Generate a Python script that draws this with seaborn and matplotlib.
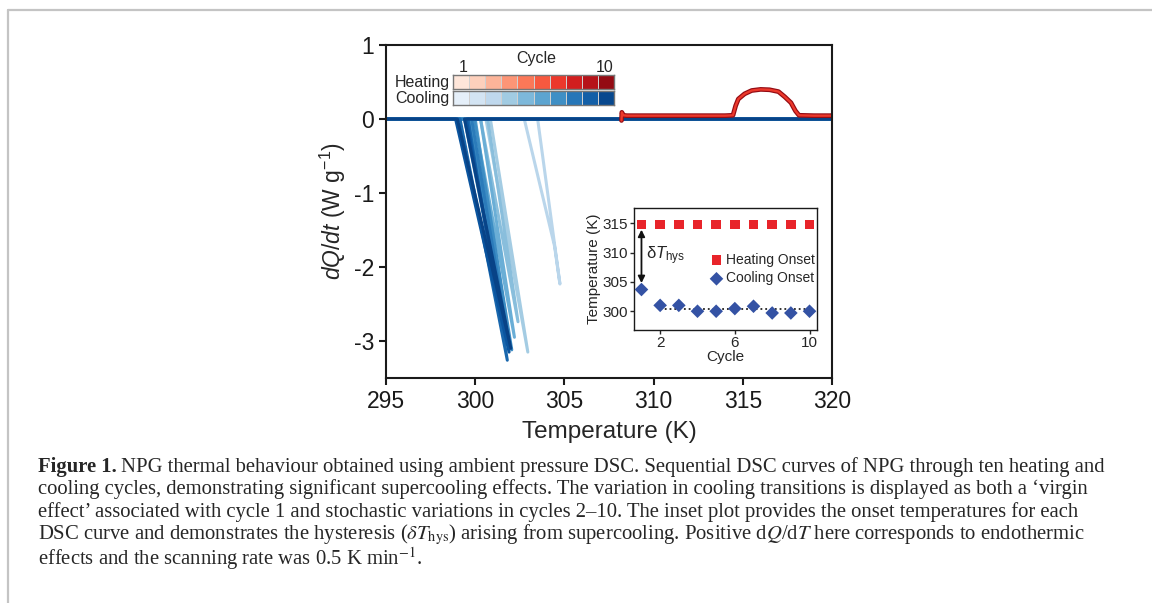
import numpy as np
import pandas as pd
import matplotlib
matplotlib.use("Agg")
import matplotlib.pyplot as plt
import seaborn as sns
from matplotlib.colors import ListedColormap
from matplotlib.lines import Line2D

# ---- data ----
cycles = [1, 2, 3, 4, 5, 6, 7, 8, 9, 10]
heat_onset = [314.8, 314.8, 314.8, 314.8, 314.8, 314.8, 314.8, 314.8, 314.8, 314.8]
cool_onset = [303.7, 301.0, 301.0, 300.0, 300.0, 300.45, 300.85, 299.7, 299.7, 300.0]
cool_mean = 300.35

# heating trace (all ten cycles overlap)
heat_T = [308.2, 308.22, 308.3, 308.5, 310.0, 312.0, 314.0, 314.45, 314.6, 314.75,
          315.1, 315.5, 316.0, 316.5, 317.0, 317.35, 317.7, 317.95, 318.15, 319.0, 320.0]
heat_q = [-0.02, 0.09, 0.05, 0.045, 0.045, 0.045, 0.045, 0.05, 0.18, 0.27,
          0.34, 0.385, 0.40, 0.395, 0.37, 0.30, 0.22, 0.11, 0.05, 0.045, 0.045]

# cooling traces: baseline -> onset -> recalescence minimum -> back to baseline
cool_T = [
    [320, 303.5, 304.75, 304.45, 302.75, 295],
    [320, 300.85, 302.95, 300.6, 295],
    [320, 300.7, 302.4, 300.3, 295],
    [320, 300.3, 302.2, 299.95, 295],
    [320, 300.0, 301.95, 299.7, 295],
    [320, 299.95, 302.05, 299.6, 295],
    [320, 299.8, 301.85, 299.4, 295],
    [320, 299.6, 301.8, 299.15, 295],
    [320, 299.5, 301.9, 298.9, 295],
    [320, 299.4, 302.0, 299.0, 295],
]
cool_q = [
    [0, 0, -2.23, -1.72, 0, 0],
    [0, 0, -3.15, 0, 0],
    [0, 0, -2.74, 0, 0],
    [0, 0, -2.95, 0, 0],
    [0, 0, -3.05, 0, 0],
    [0, 0, -3.12, 0, 0],
    [0, 0, -3.0, 0, 0],
    [0, 0, -3.26, 0, 0],
    [0, 0, -3.15, 0, 0],
    [0, 0, -3.1, 0, 0],
]

caption_lines = [
    "NPG thermal behaviour obtained using ambient pressure DSC. Sequential DSC curves of NPG through ten heating and",
    "cooling cycles, demonstrating significant supercooling effects. The variation in cooling transitions is displayed as both a \u2018virgin",
    "effect\u2019 associated with cycle 1 and stochastic variations in cycles 2\u201310. The inset plot provides the onset temperatures for each",
    r"DSC curve and demonstrates the hysteresis ($\delta T_{\mathrm{hys}}$) arising from supercooling. Positive d$Q$/d$T$ here corresponds to endothermic",
    r"effects and the scanning rate was 0.5 K min$^{-1}$.",
]

sns.set_theme(style="ticks")
plt.rcParams['font.family'] = ['Liberation Sans', 'DejaVu Sans']
plt.rcParams['axes.unicode_minus'] = False
plt.rcParams['mathtext.fontset'] = 'custom'
plt.rcParams['mathtext.rm'] = 'Liberation Sans'
plt.rcParams['mathtext.it'] = 'Liberation Sans:italic'

W, H = 1152, 603
def fx(px):
    return px / W
def fy(py):
    return 1 - py / H

blues = sns.color_palette("Blues", 10)
reds = sns.color_palette("Reds", 10)
line_blues = sns.color_palette("Blues", 13)[3:]

fig = plt.figure(figsize=(11.52, 6.03), dpi=100)

# page border
fig.add_artist(Line2D([fx(8), 1], [fy(10), fy(10)], color="#c4c4c4", lw=1.6))
fig.add_artist(Line2D([fx(8), fx(8)], [fy(10), 0], color="#c4c4c4", lw=1.6))

# ---- main axes ----
ax = fig.add_axes([fx(386), fy(378), fx(832) - fx(386), fy(45) - fy(378)])
for i in range(10):
    sns.lineplot(x=cool_T[i], y=cool_q[i], sort=False, estimator=None,
                 color=line_blues[i], lw=2.2, ax=ax)
sns.lineplot(x=heat_T, y=heat_q, sort=False, estimator=None, color=reds[9], lw=3.4, ax=ax)
sns.lineplot(x=heat_T, y=heat_q, sort=False, estimator=None, color=reds[6], lw=1.7, ax=ax)

ax.set_xlim(295, 320)
ax.set_ylim(-3.5, 1)
ax.set_xticks([295, 300, 305, 310, 315, 320])
ax.set_yticks([-3, -2, -1, 0, 1])
for s in ax.spines.values():
    s.set_linewidth(1.5)
    s.set_color("#1a1a1a")
ax.tick_params(axis="both", direction="out", length=5, width=1.5, labelsize=16.5, colors="#1a1a1a")
ax.set_xlabel("Temperature (K)", fontsize=17.5, labelpad=6)
ax.set_ylabel(r"$dQ/dt$ (W g$^{\mathregular{-1}}$)", fontsize=16.5, labelpad=4)

# ---- cycle colour key ----
for row, (pal, top, label) in enumerate([(reds, 75, "Heating"), (blues, 91, "Cooling")]):
    kax = fig.add_axes([fx(453), fy(top + 14), fx(614) - fx(453), 14 / H])
    sns.heatmap(np.array([cycles]), cmap=ListedColormap(pal), cbar=False,
                linewidths=0.4, linecolor="#d0d0d0", xticklabels=False,
                yticklabels=False, ax=kax)
    for s in kax.spines.values():
        s.set_visible(True)
        s.set_color("#777777")
        s.set_linewidth(1.0)
    fig.text(fx(450), fy(top + 7), label, ha="right", va="center", fontsize=11.5)
fig.text(fx(463), fy(67), "1", ha="center", va="center", fontsize=11.5)
fig.text(fx(605), fy(67), "10", ha="center", va="center", fontsize=11.5)
fig.text(fx(536), fy(59), "Cycle", ha="center", va="center", fontsize=11.5)

# ---- inset ----
iax = fig.add_axes([fx(634), fy(330), fx(817) - fx(634), fy(208) - fy(330)])
onset = pd.DataFrame({"Cycle": cycles, "Heating": heat_onset, "Cooling": cool_onset})
iax.plot([2, 10], [cool_mean, cool_mean], ls=":", color="#222222", lw=1.3)
sns.scatterplot(data=onset, x="Cycle", y="Heating", marker="s", color="#e8242a",
                s=48, edgecolor="none", label="Heating Onset", ax=iax, zorder=3)
sns.scatterplot(data=onset, x="Cycle", y="Cooling", marker="D", color="#3452a4",
                s=48, edgecolor="none", label="Cooling Onset", ax=iax, zorder=3)
iax.annotate("", xy=(1, 304.8), xytext=(1, 313.9),
             arrowprops=dict(arrowstyle="<|-|>", color="#111111", lw=1.3,
                             mutation_scale=10, shrinkA=0, shrinkB=0))
iax.text(1.25, 309.4, r"δ$T_{\mathregular{hys}}$", fontsize=12, va="center", ha="left")
iax.set_xlim(0.6, 10.4)
iax.set_ylim(296.8, 317.6)
iax.set_xticks([2, 6, 10])
iax.set_yticks([300, 305, 310, 315])
for s in iax.spines.values():
    s.set_linewidth(1.0)
    s.set_color("#1a1a1a")
iax.tick_params(axis="both", direction="out", length=3, width=1.0, labelsize=11, pad=1.5)
iax.set_xlabel("Cycle", fontsize=11, labelpad=0)
iax.set_ylabel("Temperature (K)", fontsize=11, labelpad=1)
leg = iax.legend(loc="center left", bbox_to_anchor=(0.39, 0.5), frameon=False,
                 fontsize=10, handletextpad=0.3, borderaxespad=0, labelspacing=0.35,
                 handlelength=0.8, markerscale=1.0)

# ---- caption ----
line_base = [472, 494, 517, 539, 565]
cap_size = 14.85
fig.canvas.draw()
renderer = fig.canvas.get_renderer()
bold = fig.text(fx(38), fy(line_base[0]), "Figure 1.", fontsize=cap_size, fontweight="bold",
                family="Liberation Serif", va="baseline", ha="left")
bb = bold.get_window_extent(renderer=renderer)
start_x = bb.x1 + 4
for k, txt in enumerate(caption_lines):
    x0 = start_x / W if k == 0 else fx(38)
    fig.text(x0, fy(line_base[k]), txt, fontsize=cap_size, family="Liberation Serif",
             math_fontfamily="stix", va="baseline", ha="left")

fig.savefig("out.png", dpi=100)
